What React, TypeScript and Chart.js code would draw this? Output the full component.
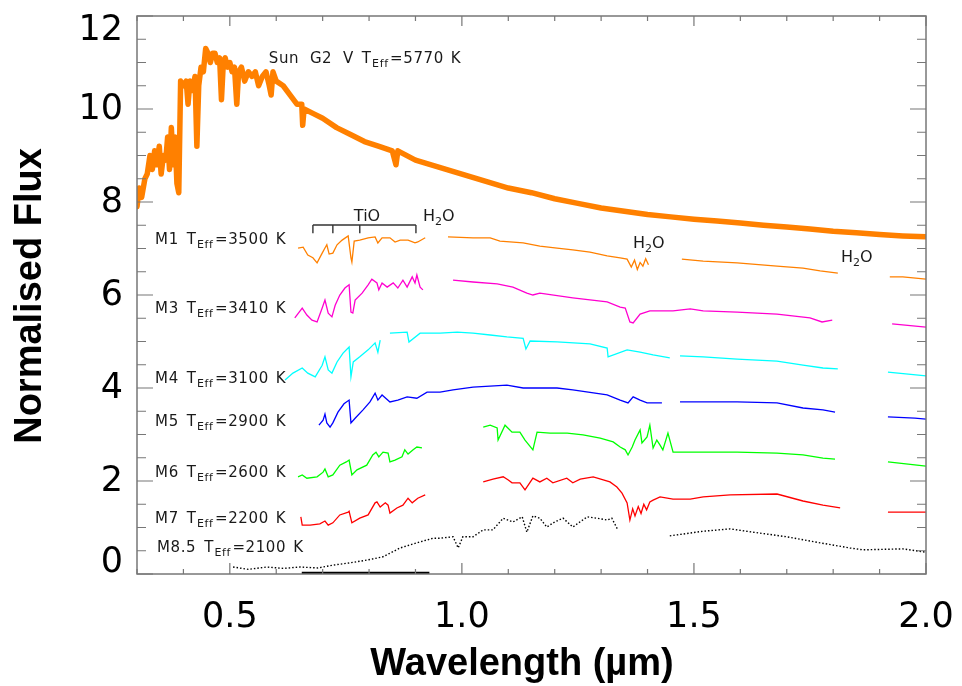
import React, { useEffect, useRef } from "react";
import { Chart, registerables } from "chart.js";

Chart.register(...registerables);

type Pt = [number, number | null];

// ---- axis definitions ----
const X_MIN = 0.3;
const X_MAX = 2.0;
const Y_MIN = 0;
const Y_MAX = 12;
const X_TICK_LABELS = ["0.5", "1.0", "1.5", "2.0"];
const Y_TICK_LABELS = ["0", "2", "4", "6", "8", "10", "12"];
const X_TITLE = "Wavelength (\u00b5m)";
const Y_TITLE = "Normalised Flux";

// ---- spectra: [wavelength (µm), normalised flux] ; null = gap ----
const SUN: Pt[] = [
  [0.300, 7.9], [0.305, 8.3], [0.310, 8.1], [0.317, 8.5], [0.322, 8.6], [0.328, 9.0], [0.333, 8.7],
  [0.338, 9.1], [0.343, 8.8], [0.348, 9.2], [0.352, 8.6], [0.357, 9.0], [0.362, 8.9], [0.366, 9.4],
  [0.370, 8.7], [0.374, 9.6], [0.378, 8.8], [0.382, 9.4], [0.386, 8.4], [0.390, 8.2], [0.394, 10.6],
  [0.400, 10.5], [0.406, 10.6], [0.410, 10.1], [0.414, 10.6], [0.420, 10.4], [0.425, 10.7], [0.429, 9.2],
  [0.433, 10.5], [0.438, 10.9], [0.443, 10.8], [0.448, 11.3], [0.453, 11.2], [0.458, 11.0], [0.463, 11.2],
  [0.468, 11.2], [0.473, 11.0], [0.478, 11.1], [0.482, 10.2], [0.486, 11.0], [0.490, 11.1], [0.495, 10.9],
  [0.500, 11.0], [0.505, 10.8], [0.510, 10.9], [0.515, 10.1], [0.519, 10.8], [0.525, 10.9], [0.532, 10.6],
  [0.540, 10.8], [0.548, 10.7], [0.555, 10.8], [0.562, 10.5], [0.570, 10.7], [0.578, 10.8], [0.585, 10.5],
  [0.589, 10.3], [0.593, 10.8], [0.600, 10.6], [0.615, 10.5], [0.630, 10.3], [0.645, 10.1], [0.655, 10.1],
  [0.657, 9.65], [0.660, 10.0], [0.680, 9.9], [0.700, 9.8], [0.730, 9.6], [0.760, 9.45], [0.790, 9.3],
  [0.820, 9.2], [0.850, 9.1], [0.858, 8.8], [0.862, 9.1], [0.900, 8.9], [0.950, 8.75], [1.000, 8.6],
  [1.050, 8.45], [1.100, 8.3], [1.150, 8.2], [1.200, 8.07], [1.250, 7.97], [1.300, 7.87], [1.350, 7.8],
  [1.400, 7.73], [1.450, 7.68], [1.500, 7.63], [1.550, 7.59], [1.600, 7.55], [1.650, 7.5], [1.700, 7.46],
  [1.750, 7.42], [1.800, 7.37], [1.850, 7.34], [1.900, 7.3], [1.950, 7.27], [2.000, 7.25],
];

const M1: Pt[] = [
  [0.647, 7.01], [0.658, 7.03], [0.668, 6.86], [0.679, 6.80], [0.688, 6.69], [0.699, 6.90], [0.705, 7.01],
  [0.709, 7.08], [0.714, 6.88], [0.722, 6.90], [0.731, 7.08], [0.742, 7.18], [0.755, 7.27], [0.761, 6.80],
  [0.763, 6.71], [0.768, 7.16], [0.780, 7.18], [0.798, 7.23], [0.813, 7.25], [0.819, 7.12], [0.828, 7.23],
  [0.845, 7.23], [0.856, 7.14], [0.867, 7.18], [0.884, 7.18], [0.899, 7.12], [0.905, 7.14], [0.921, 7.23],
  [0.945, null],
  [0.970, 7.25], [1.024, 7.23], [1.061, 7.23], [1.082, 7.16], [1.132, 7.12], [1.168, 7.05], [1.205, 7.01],
  [1.239, 6.97], [1.276, 6.92], [1.313, 6.84], [1.341, 6.80], [1.356, 6.77], [1.365, 6.60], [1.372, 6.75],
  [1.378, 6.55], [1.384, 6.70], [1.390, 6.62], [1.396, 6.78], [1.402, 6.65],
  [1.44, null],
  [1.474, 6.77], [1.520, 6.73], [1.593, 6.69], [1.679, 6.62], [1.735, 6.58], [1.772, 6.52], [1.810, 6.47],
  [1.86, null],
  [1.922, 6.39], [1.950, 6.39], [2.000, 6.34],
];

const M3: Pt[] = [
  [0.640, 5.51], [0.656, 5.72], [0.666, 5.57], [0.677, 5.46], [0.688, 5.42], [0.699, 5.72], [0.705, 5.89],
  [0.712, 5.61], [0.720, 5.53], [0.727, 5.78], [0.737, 6.00], [0.748, 6.15], [0.757, 6.22], [0.761, 5.63],
  [0.765, 5.61], [0.770, 5.89], [0.785, 6.04], [0.798, 6.22], [0.806, 6.34], [0.817, 6.26], [0.821, 6.11],
  [0.828, 6.26], [0.839, 6.17], [0.852, 6.26], [0.862, 6.15], [0.873, 6.32], [0.882, 6.17], [0.893, 6.39],
  [0.899, 6.26], [0.903, 6.43], [0.910, 6.17], [0.916, 6.11],
  [0.950, null],
  [0.981, 6.32], [1.024, 6.28], [1.076, 6.24], [1.110, 6.17], [1.140, 6.04], [1.153, 6.00], [1.168, 6.04],
  [1.239, 5.94], [1.313, 5.85], [1.341, 5.74], [1.352, 5.72], [1.362, 5.42], [1.369, 5.40], [1.384, 5.59],
  [1.405, 5.66], [1.455, 5.66], [1.492, 5.70], [1.520, 5.66], [1.593, 5.63], [1.679, 5.59], [1.750, 5.51],
  [1.776, 5.42], [1.798, 5.46],
  [1.86, null],
  [1.927, 5.38], [2.000, 5.31],
];

const M4: Pt[] = [
  [0.619, 4.17], [0.636, 4.32], [0.656, 4.43], [0.668, 4.32], [0.684, 4.24], [0.699, 4.49], [0.705, 4.67],
  [0.712, 4.39], [0.720, 4.32], [0.731, 4.56], [0.744, 4.75], [0.757, 4.88], [0.761, 4.24], [0.766, 4.56],
  [0.780, 4.67], [0.798, 4.82], [0.813, 4.97], [0.819, 4.77], [0.824, 5.03],
  [0.834, null],
  [0.845, 5.18], [0.882, 5.20], [0.886, 4.99], [0.910, 5.18], [0.953, 5.18], [0.990, 5.20], [1.024, 5.18],
  [1.061, 5.14], [1.097, 5.10], [1.132, 5.07], [1.138, 4.84], [1.147, 5.01], [1.205, 4.99], [1.276, 4.95],
  [1.313, 4.86], [1.315, 4.67], [1.356, 4.82], [1.384, 4.77], [1.412, 4.71], [1.448, 4.65],
  [1.459, null],
  [1.470, 4.69], [1.520, 4.67], [1.593, 4.62], [1.679, 4.58], [1.735, 4.49], [1.778, 4.43], [1.810, 4.41],
  [1.86, null],
  [1.918, 4.34], [2.000, 4.26],
];

const M5: Pt[] = [
  [0.692, 3.20], [0.701, 3.31], [0.705, 3.44], [0.709, 3.25], [0.716, 3.16], [0.722, 3.25], [0.733, 3.48],
  [0.746, 3.66], [0.757, 3.74], [0.761, 3.25], [0.770, 3.35], [0.787, 3.53], [0.802, 3.70], [0.813, 3.89],
  [0.819, 3.74], [0.828, 3.85], [0.845, 3.70], [0.862, 3.74], [0.882, 3.81], [0.903, 3.78], [0.925, 3.91],
  [0.953, 3.91], [0.981, 3.96], [1.024, 4.02], [1.097, 4.06], [1.132, 4.00], [1.205, 4.00], [1.239, 3.96],
  [1.313, 3.85], [1.341, 3.74], [1.358, 3.68], [1.369, 3.81], [1.384, 3.74], [1.399, 3.68], [1.431, 3.68],
  [1.450, null],
  [1.470, 3.70], [1.520, 3.70], [1.593, 3.70], [1.679, 3.68], [1.735, 3.57], [1.778, 3.53], [1.804, 3.48],
  [1.86, null],
  [1.918, 3.38], [1.976, 3.35], [2.000, 3.33],
];

const M6: Pt[] = [
  [0.647, 2.09], [0.656, 2.13], [0.666, 2.06], [0.688, 2.09], [0.701, 2.19], [0.705, 2.26], [0.712, 2.09],
  [0.722, 2.13], [0.737, 2.34], [0.751, 2.41], [0.757, 2.45], [0.763, 2.13], [0.774, 2.24], [0.795, 2.34],
  [0.808, 2.56], [0.815, 2.62], [0.821, 2.52], [0.830, 2.62], [0.841, 2.60], [0.845, 2.41], [0.856, 2.45],
  [0.871, 2.52], [0.877, 2.67], [0.884, 2.58], [0.895, 2.67], [0.903, 2.73], [0.914, 2.71],
  [0.980, null],
  [1.046, 3.16], [1.061, 3.20], [1.076, 3.14], [1.078, 2.88], [1.093, 3.20], [1.108, 3.05], [1.125, 3.05],
  [1.136, 2.88], [1.153, 2.67], [1.162, 3.05], [1.190, 3.03], [1.227, 3.03], [1.261, 2.99], [1.298, 2.92],
  [1.326, 2.84], [1.341, 2.73], [1.352, 2.67], [1.358, 2.56], [1.367, 2.73], [1.373, 2.88], [1.384, 3.10],
  [1.388, 2.82], [1.399, 2.95], [1.405, 3.20], [1.412, 2.71], [1.420, 2.88], [1.427, 2.77], [1.433, 2.67],
  [1.444, 3.03], [1.455, 2.62], [1.492, 2.62], [1.520, 2.62], [1.593, 2.62], [1.679, 2.60], [1.735, 2.56],
  [1.778, 2.49], [1.804, 2.47],
  [1.86, null],
  [1.918, 2.41], [2.000, 2.32],
];

const M7: Pt[] = [
  [0.653, 1.23], [0.656, 1.05], [0.673, 1.05], [0.694, 1.08], [0.705, 1.14], [0.712, 1.05], [0.722, 1.10],
  [0.737, 1.27], [0.755, 1.33], [0.757, 1.35], [0.763, 1.10], [0.780, 1.20], [0.798, 1.27], [0.813, 1.53],
  [0.817, 1.55], [0.824, 1.44], [0.835, 1.53], [0.841, 1.48], [0.845, 1.31], [0.860, 1.42], [0.873, 1.48],
  [0.884, 1.63], [0.893, 1.53], [0.905, 1.63], [0.921, 1.70],
  [0.980, null],
  [1.046, 1.98], [1.067, 2.04], [1.089, 2.09], [1.100, 2.02], [1.108, 1.96], [1.125, 1.96], [1.136, 1.81],
  [1.153, 2.06], [1.168, 1.98], [1.183, 2.06], [1.196, 1.96], [1.226, 2.06], [1.239, 1.96], [1.255, 2.04],
  [1.283, 2.09], [1.319, 1.98], [1.334, 1.87], [1.345, 1.74], [1.356, 1.53], [1.362, 1.16], [1.368, 1.40],
  [1.373, 1.25], [1.380, 1.45], [1.386, 1.30], [1.392, 1.50], [1.398, 1.38], [1.405, 1.55], [1.412, 1.59],
  [1.427, 1.66], [1.455, 1.61], [1.492, 1.61], [1.520, 1.66], [1.578, 1.70], [1.679, 1.72], [1.735, 1.57],
  [1.778, 1.48], [1.815, 1.42],
  [1.86, null],
  [1.918, 1.33], [2.000, 1.33],
];

const M85: Pt[] = [
  [0.507, 0.15], [0.540, 0.10], [0.580, 0.15], [0.615, 0.12], [0.651, 0.15], [0.690, 0.13], [0.722, 0.19],
  [0.759, 0.24], [0.796, 0.30], [0.830, 0.37], [0.867, 0.56], [0.903, 0.67], [0.938, 0.77], [0.953, 0.77],
  [0.981, 0.80], [0.992, 0.56], [1.002, 0.80], [1.024, 0.80], [1.046, 0.95], [1.067, 0.95], [1.089, 1.20],
  [1.110, 1.12], [1.130, 1.23], [1.140, 0.90], [1.153, 1.25], [1.168, 1.20], [1.183, 1.01], [1.200, 1.12],
  [1.218, 1.20], [1.239, 1.01], [1.270, 1.23], [1.291, 1.20], [1.313, 1.16], [1.323, 1.20], [1.336, 0.95],
  [1.390, null],
  [1.448, 0.82], [1.520, 0.92], [1.578, 0.97], [1.627, 0.90], [1.700, 0.80], [1.772, 0.67], [1.836, 0.56],
  [1.864, 0.52], [1.950, 0.54], [2.000, 0.47],
];

const M85_FLOOR: Pt[] = [[0.655, 0.02], [0.930, 0.02]];

// ---- labels ----
const STAR_NAMES = ["M1", "M3", "M4", "M5", "M6", "M7", "M8.5"];
const STAR_TEFF = ["3500", "3410", "3100", "2900", "2600", "2200", "2100"];
const STAR_LABEL_X = [0.339, 0.339, 0.339, 0.339, 0.339, 0.339, 0.343];
const STAR_LABEL_Y = [7.10, 5.61, 4.11, 3.18, 2.09, 1.10, 0.47];
const SUN_LABEL = { name: "Sun  G2  V", teff: "5770", x: 0.584, y: 10.99 };
const TIO_BANDS = [0.679, 0.722, 0.780, 0.901];
const TIO_LINE_Y = 7.505;
const TIO_TICK_Y = 7.33;
const TIO_TEXT = { text: "TiO", x: 0.7956, y: 7.59 };
const H2O_X = [0.9163, 1.3687, 1.8169];
const H2O_Y = [7.59, 7.01, 6.71];

const COLORS = {
  sun: "#ff8000",
  m1: "#ff8000",
  m3: "#ff00d0",
  m4: "#00ffff",
  m5: "#0000ff",
  m6: "#00ff00",
  m7: "#ff0000",
  m85: "#000000",
};

const toXY = (arr: Pt[]) => arr.map(([x, y]) => ({ x, y }));

const LABEL_FONT = "'DejaVu Sans', sans-serif";

function drawTeffLabel(ctx: CanvasRenderingContext2D, x: number, y: number, name: string, teff: string) {
  (ctx as any).letterSpacing = "0.6px";
  ctx.font = `15px ${LABEL_FONT}`;
  ctx.fillText(name, x, y);
  let cx = x + ctx.measureText(name).width + 8;
  ctx.fillText("T", cx, y);
  cx += ctx.measureText("T").width + 0.5;
  ctx.font = `11px ${LABEL_FONT}`;
  ctx.fillText("Eff", cx, y + 4);
  cx += ctx.measureText("Eff").width + 1.5;
  ctx.font = `15px ${LABEL_FONT}`;
  const t = "=" + teff;
  ctx.fillText(t, cx, y);
  cx += ctx.measureText(t).width + 7;
  ctx.fillText("K", cx, y);
  (ctx as any).letterSpacing = "0px";
}

function drawH2O(ctx: CanvasRenderingContext2D, x: number, y: number) {
  ctx.font = `16px ${LABEL_FONT}`;
  ctx.fillText("H", x, y);
  let cx = x + ctx.measureText("H").width;
  ctx.font = `11px ${LABEL_FONT}`;
  ctx.fillText("2", cx, y + 4);
  cx += ctx.measureText("2").width;
  ctx.font = `16px ${LABEL_FONT}`;
  ctx.fillText("O", cx, y);
}

const framePlugin = {
  id: "framePlugin",
  afterDatasetsDraw(chart: any) {
    const { ctx, chartArea, scales } = chart;
    const xs = scales.x;
    const ys = scales.y;
    const { left, right, top, bottom } = chartArea;
    ctx.save();
    // frame
    ctx.strokeStyle = "#777777";
    ctx.lineWidth = 1.5;
    ctx.strokeRect(left, top, right - left, bottom - top);
    // x ticks
    ctx.lineWidth = 1.2;
    for (let i = 3; i <= 20; i++) {
      const v = i / 10;
      const px = xs.getPixelForValue(v);
      const major = i % 5 === 0;
      const lenB = major ? 11 : 5;
      const lenT = major ? 10 : 5;
      ctx.beginPath();
      ctx.moveTo(px, bottom);
      ctx.lineTo(px, bottom - lenB);
      ctx.moveTo(px, top);
      ctx.lineTo(px, top + lenT);
      ctx.stroke();
    }
    // y ticks
    for (let i = 0; i <= 24; i++) {
      const v = i / 2;
      const py = ys.getPixelForValue(v);
      const major = i % 4 === 0;
      const len = major ? 16 : 9;
      ctx.beginPath();
      ctx.moveTo(left, py);
      ctx.lineTo(left + len, py);
      ctx.moveTo(right, py);
      ctx.lineTo(right - len, py);
      ctx.stroke();
    }
    // tick labels
    ctx.fillStyle = "#000";
    ctx.font = `35px 'DejaVu Sans', sans-serif`;
    ctx.textAlign = "right";
    ctx.textBaseline = "middle";
    Y_TICK_LABELS.forEach((lab) => {
      const py = ys.getPixelForValue(parseFloat(lab));
      const cy = Math.min(Math.max(py, top + 14), bottom - 12);
      ctx.fillText(lab, left - 14, cy + 1);
    });
    ctx.textAlign = "center";
    X_TICK_LABELS.forEach((lab) => {
      const px = xs.getPixelForValue(parseFloat(lab));
      ctx.fillText(lab, px, bottom + 44);
    });
    // axis titles
    ctx.font = `bold 38px 'Liberation Sans', 'DejaVu Sans', sans-serif`;
    ctx.fillText(X_TITLE, 522, bottom + 91);
    ctx.save();
    ctx.translate(31, 296);
    ctx.rotate(-Math.PI / 2);
    ctx.fillText(Y_TITLE, 0, 0);
    ctx.restore();

    // annotations
    ctx.textAlign = "left";
    ctx.textBaseline = "alphabetic";
    ctx.fillStyle = "#1a1a1a";
    drawTeffLabel(ctx, xs.getPixelForValue(SUN_LABEL.x), ys.getPixelForValue(SUN_LABEL.y), SUN_LABEL.name, SUN_LABEL.teff);
    STAR_NAMES.forEach((n, i) => {
      drawTeffLabel(ctx, xs.getPixelForValue(STAR_LABEL_X[i]), ys.getPixelForValue(STAR_LABEL_Y[i]), n, STAR_TEFF[i]);
    });
    // TiO bracket
    ctx.strokeStyle = "#333";
    ctx.lineWidth = 1.4;
    const by = ys.getPixelForValue(TIO_LINE_Y);
    const ty = ys.getPixelForValue(TIO_TICK_Y);
    ctx.beginPath();
    ctx.moveTo(xs.getPixelForValue(TIO_BANDS[0]), by);
    ctx.lineTo(xs.getPixelForValue(TIO_BANDS[TIO_BANDS.length - 1]), by);
    TIO_BANDS.forEach((b) => {
      const px = xs.getPixelForValue(b);
      ctx.moveTo(px, by);
      ctx.lineTo(px, ty);
    });
    ctx.stroke();
    ctx.font = `16px ${LABEL_FONT}`;
    ctx.textAlign = "center";
    ctx.fillText(TIO_TEXT.text, xs.getPixelForValue(TIO_TEXT.x), ys.getPixelForValue(TIO_TEXT.y));
    ctx.textAlign = "left";
    H2O_X.forEach((hx, i) => drawH2O(ctx, xs.getPixelForValue(hx), ys.getPixelForValue(H2O_Y[i])));
    ctx.restore();
  },
};

export default function App() {
  const ref = useRef<HTMLCanvasElement | null>(null);
  useEffect(() => {
    if (!ref.current) return;
    const thin = (label: string, data: Pt[], color: string, extra: any = {}) => ({
      label,
      data: toXY(data),
      borderColor: color,
      backgroundColor: color,
      borderWidth: 1.3,
      pointRadius: 0,
      spanGaps: false,
      tension: 0,
      ...extra,
    });
    const chart = new Chart(ref.current, {
      type: "line",
      data: {
        datasets: [
          thin("M8.5", M85, COLORS.m85, { borderDash: [1.5, 2], borderWidth: 1.4 }),
          thin("M8.5 floor", M85_FLOOR, COLORS.m85, { borderWidth: 2.5 }),
          thin("M7", M7, COLORS.m7),
          thin("M6", M6, COLORS.m6),
          thin("M5", M5, COLORS.m5),
          thin("M4", M4, COLORS.m4),
          thin("M3", M3, COLORS.m3),
          thin("M1", M1, COLORS.m1),
          thin("Sun", SUN, COLORS.sun, { borderWidth: 5.5, borderJoinStyle: "round", borderCapStyle: "round" }),
        ],
      },
      options: {
        responsive: false,
        animation: false,
        layout: { padding: { left: 137, top: 16, right: 36, bottom: 112 } },
        scales: {
          x: { type: "linear", min: X_MIN, max: X_MAX, display: false },
          y: { type: "linear", min: Y_MIN, max: Y_MAX, display: false },
        },
        plugins: { legend: { display: false }, tooltip: { enabled: false } },
      },
      plugins: [framePlugin],
    });
    return () => chart.destroy();
  }, []);
  return (
    <div style={{ position: "absolute", left: 0, top: 0, width: 962, height: 686, background: "#fff" }}>
      <canvas ref={ref} width={962} height={686} style={{ display: "block" }} />
    </div>
  );
}
